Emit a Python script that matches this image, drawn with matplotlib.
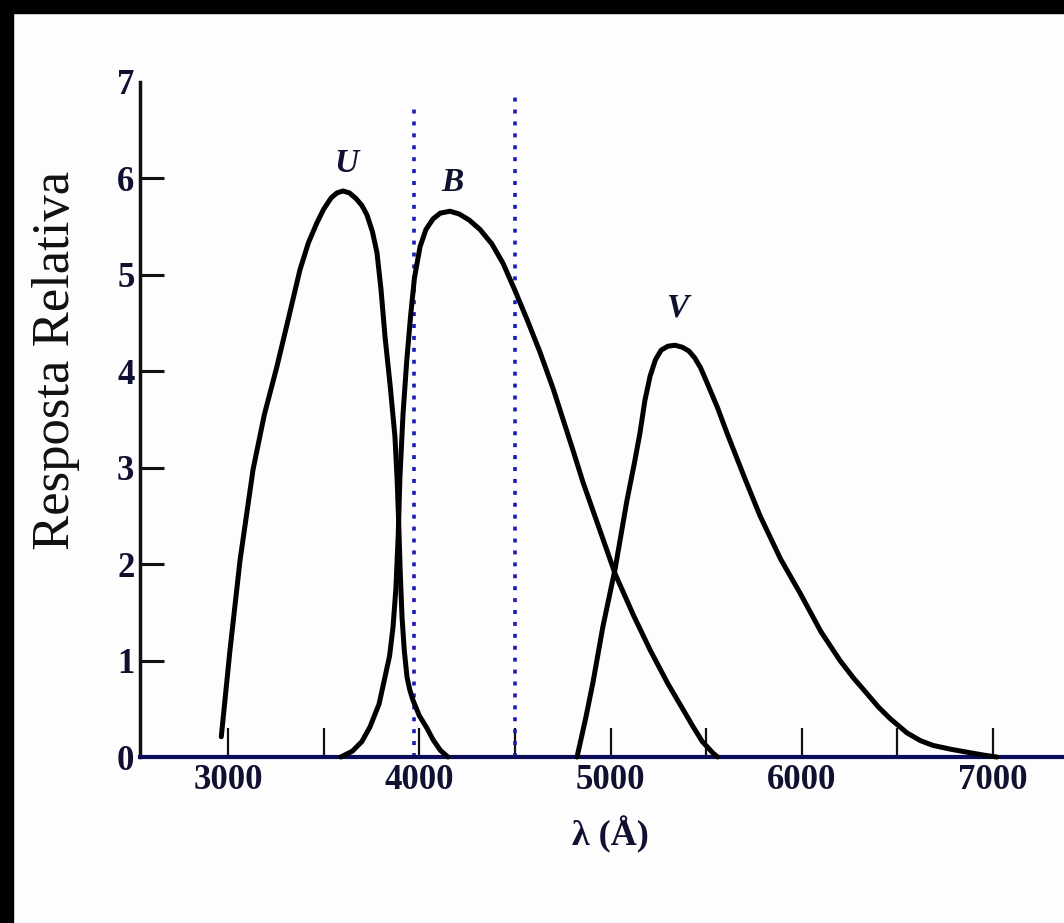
import matplotlib
matplotlib.use("Agg")
import matplotlib.pyplot as plt
from matplotlib.patches import Rectangle

# filter response curves (wavelength in Angstrom, relative response)
u_wl = [2965, 3010, 3063, 3131, 3190, 3256, 3320, 3376, 3420, 3465, 3500, 3540, 3570,
        3601, 3635, 3670, 3700, 3727, 3755, 3779, 3800, 3821, 3848, 3873, 3885, 3893,
        3900, 3910, 3922, 3936, 3950, 3967, 4000, 4040, 4072, 4110, 4150]
u_resp = [0.21, 1.10, 2.04, 2.98, 3.55, 4.05, 4.58, 5.05, 5.33, 5.54, 5.68, 5.80, 5.85,
          5.87, 5.85, 5.79, 5.72, 5.62, 5.45, 5.23, 4.85, 4.36, 3.85, 3.32, 2.85, 2.40,
          1.95, 1.45, 1.10, 0.83, 0.70, 0.59, 0.43, 0.30, 0.18, 0.07, 0.0]

b_wl = [3590, 3650, 3700, 3742, 3790, 3821, 3845, 3863, 3878, 3890, 3899, 3915, 3935,
        3955, 3975, 4004, 4035, 4072, 4110, 4161, 4210, 4260, 4318, 4380, 4438, 4500,
        4565, 4631, 4700, 4752, 4804, 4856, 4950, 5024, 5120, 5207, 5300, 5380, 5430,
        5480, 5536, 5560]
b_resp = [0.0, 0.06, 0.16, 0.31, 0.55, 0.83, 1.05, 1.35, 1.75, 2.30, 2.90, 3.55, 4.12,
          4.58, 4.97, 5.29, 5.47, 5.58, 5.64, 5.66, 5.63, 5.57, 5.47, 5.32, 5.12, 4.84,
          4.53, 4.20, 3.82, 3.50, 3.18, 2.85, 2.32, 1.90, 1.47, 1.11, 0.76, 0.49, 0.32,
          0.16, 0.04, 0.0]

v_wl = [4825, 4870, 4908, 4960, 5024, 5085, 5125, 5154, 5180, 5207, 5235, 5265, 5300,
        5337, 5375, 5410, 5440, 5470, 5505, 5560, 5609, 5700, 5782, 5890, 5991, 6100,
        6200, 6270, 6331, 6400, 6461, 6550, 6620, 6686, 6780, 6864, 6950, 7020]
v_resp = [0.0, 0.40, 0.77, 1.35, 1.95, 2.65, 3.05, 3.36, 3.70, 3.95, 4.12, 4.22, 4.26,
          4.27, 4.25, 4.21, 4.14, 4.04, 3.88, 3.62, 3.36, 2.90, 2.50, 2.05, 1.70, 1.30,
          1.00, 0.82, 0.68, 0.52, 0.40, 0.25, 0.17, 0.12, 0.08, 0.05, 0.02, 0.0]

band_names = ["U", "B", "V"]
band_label_wl = [3617, 4171, 5348]
band_label_y = [6.15, 5.96, 4.66]

# dotted markers
mark_wl = [3975, 4500]
mark_top = [6.76, 6.90]

x_major = [3000, 4000, 5000, 6000, 7000]
x_minor = [3500, 4500, 5500, 6500]
y_ticks = [0, 1, 2, 3, 4, 5, 6, 7]

fig = plt.figure(figsize=(10.64, 9.23), dpi=100, facecolor="#fdfdfe")
# black frame strips (top and left) as in the scanned picture
fig.patches.append(Rectangle((0, 1 - 13 / 923), 1, 13 / 923, transform=fig.transFigure,
                             color="black", zorder=0))
fig.patches.append(Rectangle((0, 0), 13 / 1064, 1, transform=fig.transFigure,
                             color="black", zorder=0))

ax = fig.add_axes([140 / 1064, 166 / 923, 924 / 1064, 675 / 923])
ax.set_facecolor("none")

for wl, resp in [(u_wl, u_resp), (b_wl, b_resp), (v_wl, v_resp)]:
    ax.plot(wl, resp, color="black", lw=3.6, solid_joinstyle="round",
            solid_capstyle="round", clip_on=False, zorder=3)

for wl, top in zip(mark_wl, mark_top):
    ax.plot([wl, wl], [0, top], color="#1a1ab4", lw=2.6, linestyle=(0, (1.1, 2.2)),
            clip_on=False, zorder=2)

for name, x, y in zip(band_names, band_label_wl, band_label_y):
    ax.text(x, y, name, ha="center", va="center", fontsize=24, fontweight="bold",
            fontstyle="italic", family="Liberation Serif", color="#101030")

ax.set_xlim(2540, 7371)
ax.set_ylim(0, 7)

for side in ["top", "right"]:
    ax.spines[side].set_visible(False)
ax.spines["bottom"].set_color("#0c0c5a")
ax.spines["bottom"].set_linewidth(3)
ax.spines["left"].set_color("#111111")
ax.spines["left"].set_linewidth(2.5)

ax.set_xticks(x_major)
ax.set_xticks(x_minor, minor=True)
ax.set_yticks(y_ticks)
ax.tick_params(axis="x", which="both", direction="in", length=21, width=1.6,
               color="#111111", pad=5)
ax.tick_params(axis="y", direction="in", length=17, width=2.2, color="#111111", pad=4)
for t in [ax.yaxis.get_major_ticks()[0], ax.yaxis.get_major_ticks()[-1]]:
    t.tick1line.set_visible(False)

for lab in ax.get_xticklabels() + ax.get_yticklabels():
    lab.set_family("Liberation Serif")
    lab.set_fontweight("bold")
    lab.set_fontsize(25)
    lab.set_color("#101030")

ax.set_xlabel("λ (Å)", family="Liberation Serif", fontweight="bold", fontsize=26,
              color="#101030")
ax.xaxis.set_label_coords((610 - 140) / 924, (757 - 816) / 675)
ax.set_ylabel("Resposta Relativa", family="Liberation Serif", fontsize=38,
              color="#111111", va="center")
ax.yaxis.set_label_coords((56 - 140) / 924, (757 - 360) / 675)

fig.savefig("out.png", dpi=100, facecolor=fig.get_facecolor())
